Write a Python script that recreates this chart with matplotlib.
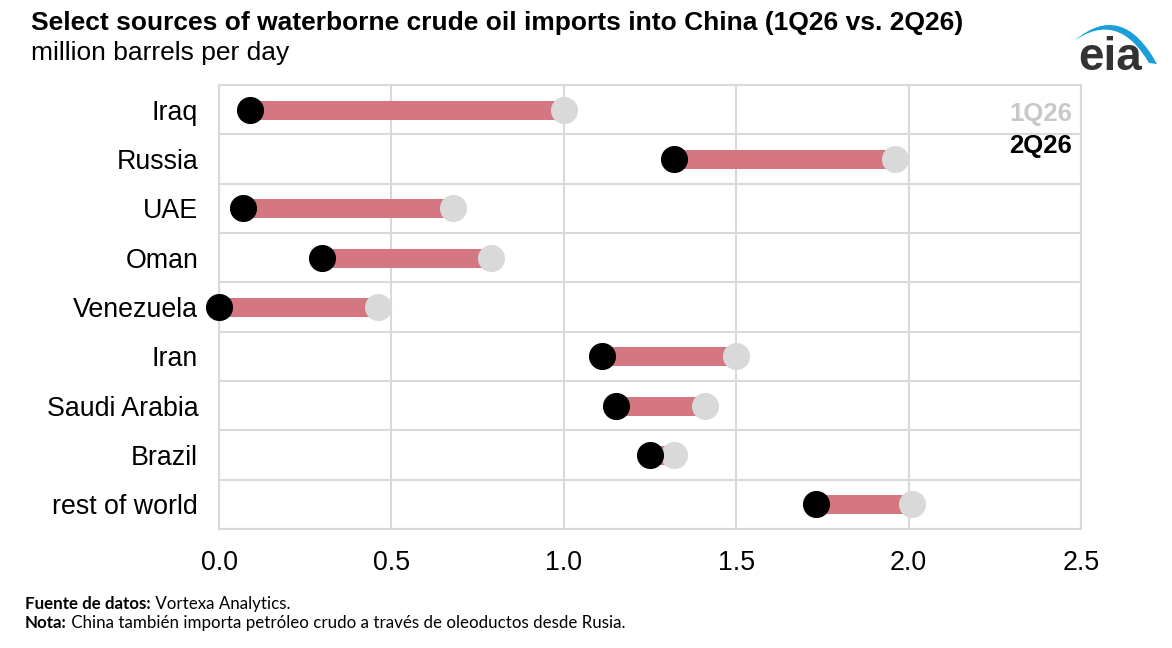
import numpy as np
import matplotlib.pyplot as plt
from matplotlib.patches import PathPatch
from matplotlib.path import Path

# Data (million barrels per day)
countries = ['Iraq', 'Russia', 'UAE', 'Oman', 'Venezuela', 'Iran',
             'Saudi Arabia', 'Brazil', 'rest of world']
q1_2026 = [1.00, 1.96, 0.68, 0.79, 0.46, 1.50, 1.41, 1.32, 2.01]
q2_2026 = [0.09, 1.32, 0.07, 0.30, 0.00, 1.11, 1.15, 1.25, 1.73]
x_ticks = [0.0, 0.5, 1.0, 1.5, 2.0, 2.5]

plt.rcParams['font.family'] = ['Liberation Sans', 'DejaVu Sans']

fig = plt.figure(figsize=(11.72, 6.48), dpi=100)
ax = fig.add_axes([219 / 1172, 1 - 529 / 648, 862 / 1172, 444 / 648])

grid_color = '#d9d9d9'
y = np.arange(len(countries))

# Connecting bars, then dots on top
for i in range(len(countries)):
    ax.plot([q2_2026[i], q1_2026[i]], [y[i], y[i]], color='#d47780',
            linewidth=13.7, solid_capstyle='butt', zorder=2, clip_on=False)
ax.plot(q1_2026, y, 'o', color='#d9d9d9', markersize=18.5, zorder=3, clip_on=False)
ax.plot(q2_2026, y, 'o', color='black', markersize=18.5, zorder=4, clip_on=False)

ax.set_xlim(0, 2.5)
ax.set_ylim(len(countries) - 0.5, -0.5)
ax.set_xticks(x_ticks)
ax.set_xticklabels([f'{v:.1f}' for v in x_ticks])
ax.set_yticks(y)
ax.set_yticklabels(countries)
ax.set_yticks(np.arange(len(countries) + 1) - 0.5, minor=True)
ax.tick_params(axis='both', which='both', length=0, labelsize=19.3,
               colors='black')
ax.tick_params(axis='x', pad=15)
ax.tick_params(axis='y', pad=15)
ax.grid(axis='x', which='major', color=grid_color, linewidth=1.5, zorder=0)
ax.grid(axis='y', which='minor', color=grid_color, linewidth=1.5, zorder=0)
ax.set_axisbelow(True)
for s in ax.spines.values():
    s.set_color(grid_color)
    s.set_linewidth(1.5)

# Legend as text
ax.text(0.9895, 0.935, '1Q26', transform=ax.transAxes, ha='right', va='center',
        fontsize=18.5, fontweight='bold', color='#c8c8c8')
ax.text(0.9895, 0.863, '2Q26', transform=ax.transAxes, ha='right', va='center',
        fontsize=18.5, fontweight='bold', color='black')

# Title and subtitle
fig.text(31 / 1172, 1 - 23 / 648, 'Select sources of waterborne crude oil imports into China (1Q26 vs. 2Q26)',
         ha='left', va='center', fontsize=19, fontweight='bold')
fig.text(31 / 1172, 1 - 53 / 648, 'million barrels per day',
         ha='left', va='center', fontsize=19)

# Footer: bold label, then the regular text placed right after it
foot_font = ['Lato', 'DejaVu Sans']
footer = [('Fuente de datos:', ' Vortexa Analytics.', 609),
          ('Nota:', ' China también importa petróleo crudo a través de oleoductos desde Rusia.', 628)]
for label, body, ypx in footer:
    t = fig.text(25 / 1172, 1 - ypx / 648, label, ha='left', va='baseline',
                 fontsize=12.2, fontweight='bold', family=foot_font)
    fig.add_artist(plt.Annotation(body, xy=(1, 0), xycoords=t, ha='left',
                                  va='bottom', fontsize=12.2, family=foot_font))

# eia logo
fig.text(1110 / 1172, 1 - 58 / 648, 'eia', ha='center', va='center',
         fontsize=33, fontweight='bold', color='#333333')
W, H = 1172, 648
arc_pts = [(1074, 41), (1122, 0), (1157, 64), (1149, 63), (1118, 10), (1074, 41)]
verts = [(px / W, 1 - py / H) for px, py in arc_pts]
codes = [Path.MOVETO, Path.CURVE3, Path.CURVE3, Path.LINETO, Path.CURVE3, Path.CURVE3]
fig.patches.append(PathPatch(Path(verts, codes), transform=fig.transFigure,
                             facecolor='#1a9fd9', edgecolor='none'))

fig.savefig('out.png', dpi=100)
